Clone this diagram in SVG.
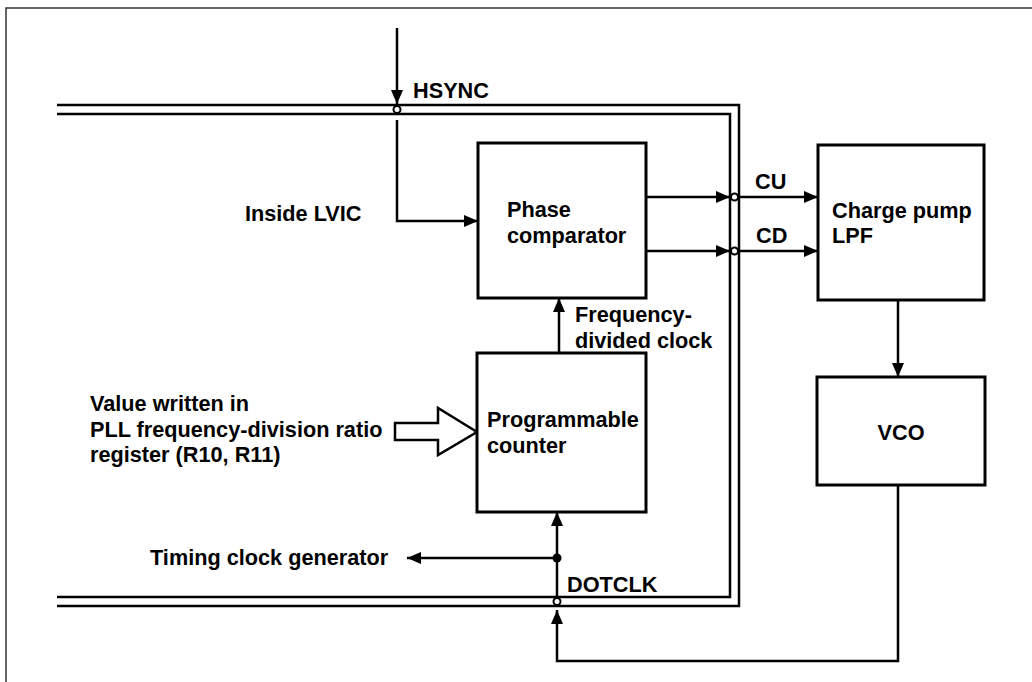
<svg xmlns="http://www.w3.org/2000/svg" width="1032" height="682" viewBox="0 0 1032 682">
<defs>
<style>
.box{fill:#fff;stroke:#000;stroke-width:3}
.ln{fill:none;stroke:#000;stroke-width:2.5}
.bus{fill:none;stroke:#000;stroke-width:2.5}
.frame{fill:none;stroke:#333;stroke-width:1.5}
.t{font-family:"Liberation Sans",Arial,Helvetica,sans-serif;font-size:21.7px;font-weight:bold;fill:#000}
.oc{fill:#fff;stroke:#000;stroke-width:2}
</style>
<marker id="ah" markerUnits="userSpaceOnUse" markerWidth="14" markerHeight="12" refX="14" refY="6" orient="auto">
<path d="M0,0 L14,6 L0,12 Z" fill="#000"/>
</marker>
</defs>
<rect width="1032" height="682" fill="#fff"/>
<path class="frame" d="M6,682 L6,8 L1032,8"/>
<g id="lvic-boundary">
<path class="bus" d="M57,105 L739,105 L739,606 L57,606"/>
<path class="bus" d="M57,114 L730,114 L730,597 L57,597"/>
</g>
<g id="connectors">
<line class="ln" x1="397" y1="28" x2="397" y2="104" marker-end="url(#ah)"/>
<path class="ln" d="M397,120 L397,221 L478,221" marker-end="url(#ah)"/>
<line class="ln" x1="646" y1="197" x2="730" y2="197" marker-end="url(#ah)"/>
<line class="ln" x1="739" y1="197" x2="818" y2="197" marker-end="url(#ah)"/>
<line class="ln" x1="646" y1="251" x2="730" y2="251" marker-end="url(#ah)"/>
<line class="ln" x1="739" y1="251" x2="818" y2="251" marker-end="url(#ah)"/>
<line class="ln" x1="898" y1="300" x2="898" y2="377" marker-end="url(#ah)"/>
<path class="ln" d="M898,485 L898,661 L557,661 L557,610" marker-end="url(#ah)"/>
<line class="ln" x1="557" y1="597" x2="557" y2="512" marker-end="url(#ah)"/>
<line class="ln" x1="557" y1="558" x2="407" y2="558" marker-end="url(#ah)"/>
<line class="ln" x1="559" y1="353" x2="559" y2="298" marker-end="url(#ah)"/>
<path d="M395,423 L438,423 L438,408 L477,432 L438,455 L438,440 L395,440 Z" fill="#fff" stroke="#000" stroke-width="2.5" stroke-linejoin="miter"/>
<circle cx="557" cy="558" r="4.5" fill="#000"/>
<circle class="oc" cx="397" cy="109.5" r="3.5"/>
<circle class="oc" cx="734.5" cy="197" r="3.5"/>
<circle class="oc" cx="734.5" cy="251" r="3.5"/>
<circle class="oc" cx="557" cy="601.5" r="3.5"/>
</g>
<g id="phase-comparator">
<rect class="box" x="478" y="143" width="168" height="155"/>
<text class="t" x="507" y="217">Phase</text>
<text class="t" x="507" y="243">comparator</text>
</g>
<g id="charge-pump">
<rect class="box" x="818" y="145" width="166" height="155"/>
<text class="t" x="832" y="218">Charge pump</text>
<text class="t" x="832" y="243">LPF</text>
</g>
<g id="vco">
<rect class="box" x="817" y="377" width="168" height="108"/>
<text class="t" x="901" y="440" text-anchor="middle">VCO</text>
</g>
<g id="programmable-counter">
<rect class="box" x="477" y="353" width="169" height="159"/>
<text class="t" x="487" y="427">Programmable</text>
<text class="t" x="487" y="453">counter</text>
</g>
<g id="labels">
<text class="t" x="413" y="98">HSYNC</text>
<text class="t" x="245" y="221">Inside LVIC</text>
<text class="t" x="755" y="189">CU</text>
<text class="t" x="756" y="243">CD</text>
<text class="t" x="575" y="322">Frequency-</text>
<text class="t" x="575" y="348">divided clock</text>
<text class="t" x="90" y="411">Value written in</text>
<text class="t" x="90" y="437">PLL frequency-division ratio</text>
<text class="t" x="90" y="462">register (R10, R11)</text>
<text class="t" x="150" y="565">Timing clock generator</text>
<text class="t" x="567" y="592">DOTCLK</text>
</g>
</svg>
